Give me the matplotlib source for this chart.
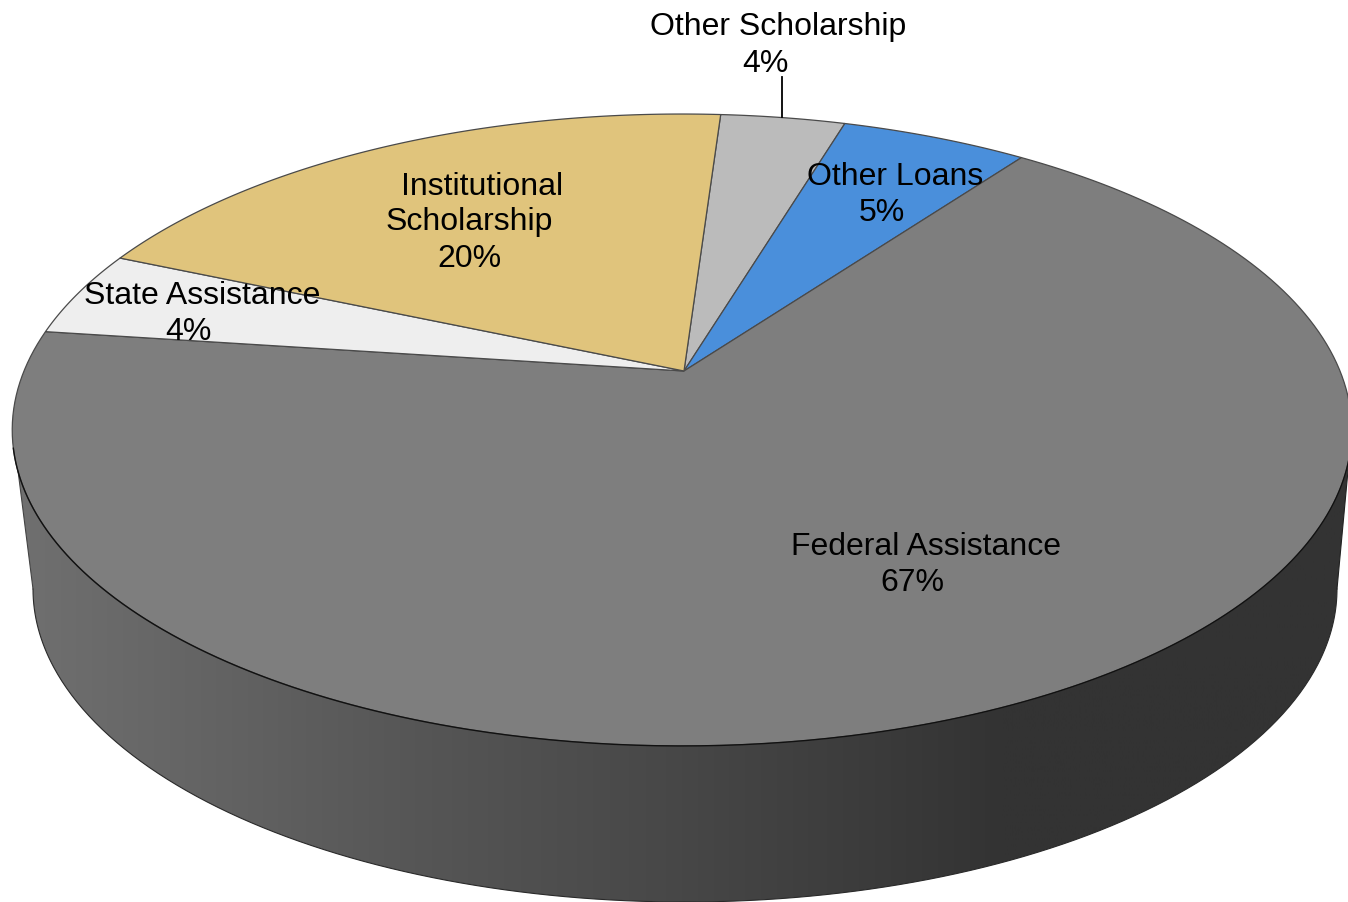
#!/usr/bin/env python3

import numpy as np
import matplotlib
matplotlib.use("Agg")
import matplotlib.pyplot as plt
from matplotlib.patches import Polygon
from matplotlib.colors import LinearSegmentedColormap

plt.rcParams["font.family"] = ["Liberation Sans", "DejaVu Sans"]

# clockwise from the first slice, estimated from the slice boundaries
categories = ["Other Scholarship", "Other Loans", "Federal Assistance", "State Assistance", "Institutional Scholarship"]
shares = [3.6, 5.4, 67.0, 4.4, 19.6]
colors = ["#bbbbbb", "#4a8fdb", "#7e7e7e", "#eeeeee", "#e0c47c"]

# one entry per text line: (text, x, y)
label_name_lines = [
    [("Other Scholarship", 778, 27)],
    [("Other Loans", 895, 177)],
    [("Federal Assistance", 926, 547)],
    [("State Assistance", 202, 296)],
    [("Institutional", 482, 187), ("Scholarship", 469, 222)],
]
label_value_pos = [(765, 64), (882, 213), (912, 583), (188, 332), (469, 259)]

START_ANGLE = 4.0
RIM_X, APEX_X, APEX_Y = 682, 684, 372
# perspective of the top face
TILT = 0.1867
RADIUS_X = 658
RADIUS_Y = 235.5

# bottom rim of the side wall
BASE_X, BASE_Y, BASE_A, BASE_B = 685, 590, 652, 313


def rim_point(theta):
    """Map clockwise degrees from 12 o'clock to the perspective rim of the pie."""
    u = np.sin(np.radians(theta))
    v = np.cos(np.radians(theta))
    w = 1 + TILT * v
    return RIM_X + RADIUS_X * u / w, (APEX_Y - RADIUS_Y * v) / w


def wedge_points(start, sweep):
    theta = np.linspace(start, start + sweep, 200)
    x, y = rim_point(theta)
    return np.vstack([[APEX_X, APEX_Y], np.column_stack([x, y])])


def draw_side(ax):
    t = np.linspace(np.pi, 0, 400)
    bx = BASE_X + BASE_A * np.cos(t)
    by = BASE_Y + BASE_B * np.sin(t)
    pts = np.vstack([[14, 440], np.column_stack([bx, by]), [1350, 450], [1340, 435], [24, 435]])
    wall = Polygon(pts, closed=True, facecolor="none", edgecolor="none")
    ax.add_patch(wall)
    cmap = LinearSegmentedColormap.from_list(
        "wall",
        [(0.0, "#707070"), (0.3, "#565656"), (0.5, "#474747"), (0.74, "#333333"), (1.0, "#333333")],
    )
    grad = np.linspace(0, 1, 512).reshape(1, -1)
    im = ax.imshow(grad, cmap=cmap, extent=(13, 1351, 903, 430), aspect="auto", zorder=1)
    im.set_clip_path(wall)
    ax.plot(bx, by, color="#2a2a2a", lw=0.8, zorder=2)
    ax.plot([14, bx[0]], [440, by[0]], color="#444444", lw=0.8, zorder=2)
    ax.plot([1350, bx[-1]], [450, by[-1]], color="#222222", lw=0.8, zorder=2)


def main():
    fig = plt.figure(figsize=(13.48, 9.03), dpi=100)
    ax = fig.add_axes([0, 0, 1, 1])

    draw_side(ax)

    angle = START_ANGLE
    for share, color in zip(shares, colors):
        sweep = share / sum(shares) * 360
        ax.add_patch(
            Polygon(wedge_points(angle, sweep), closed=True, facecolor=color,
                    edgecolor="#4a4a4a", linewidth=0.9, zorder=3)
        )
        angle += sweep

    # front edge of the top face is darker where it meets the wall
    fx, fy = rim_point(np.linspace(104, 256, 300))
    ax.plot(fx, fy, color="#111111", lw=1.0, zorder=4)

    # leader line of the outside label
    ax.plot([782, 782], [78, 118], color="black", lw=1.3, zorder=4)

    for lines, share, (vx, vy) in zip(label_name_lines, shares, label_value_pos):
        for text, x, y in lines:
            ax.text(x, y, text, fontsize=23, ha="center", va="center", color="black", zorder=5)
        ax.text(vx, vy, f"{share:.0f}%", fontsize=23, ha="center", va="center", color="black", zorder=5)

    ax.set_xlim(0, 1348)
    ax.set_ylim(903, 0)
    ax.axis("off")
    fig.savefig("out.png", dpi=100)


if __name__ == "__main__":
    main()
